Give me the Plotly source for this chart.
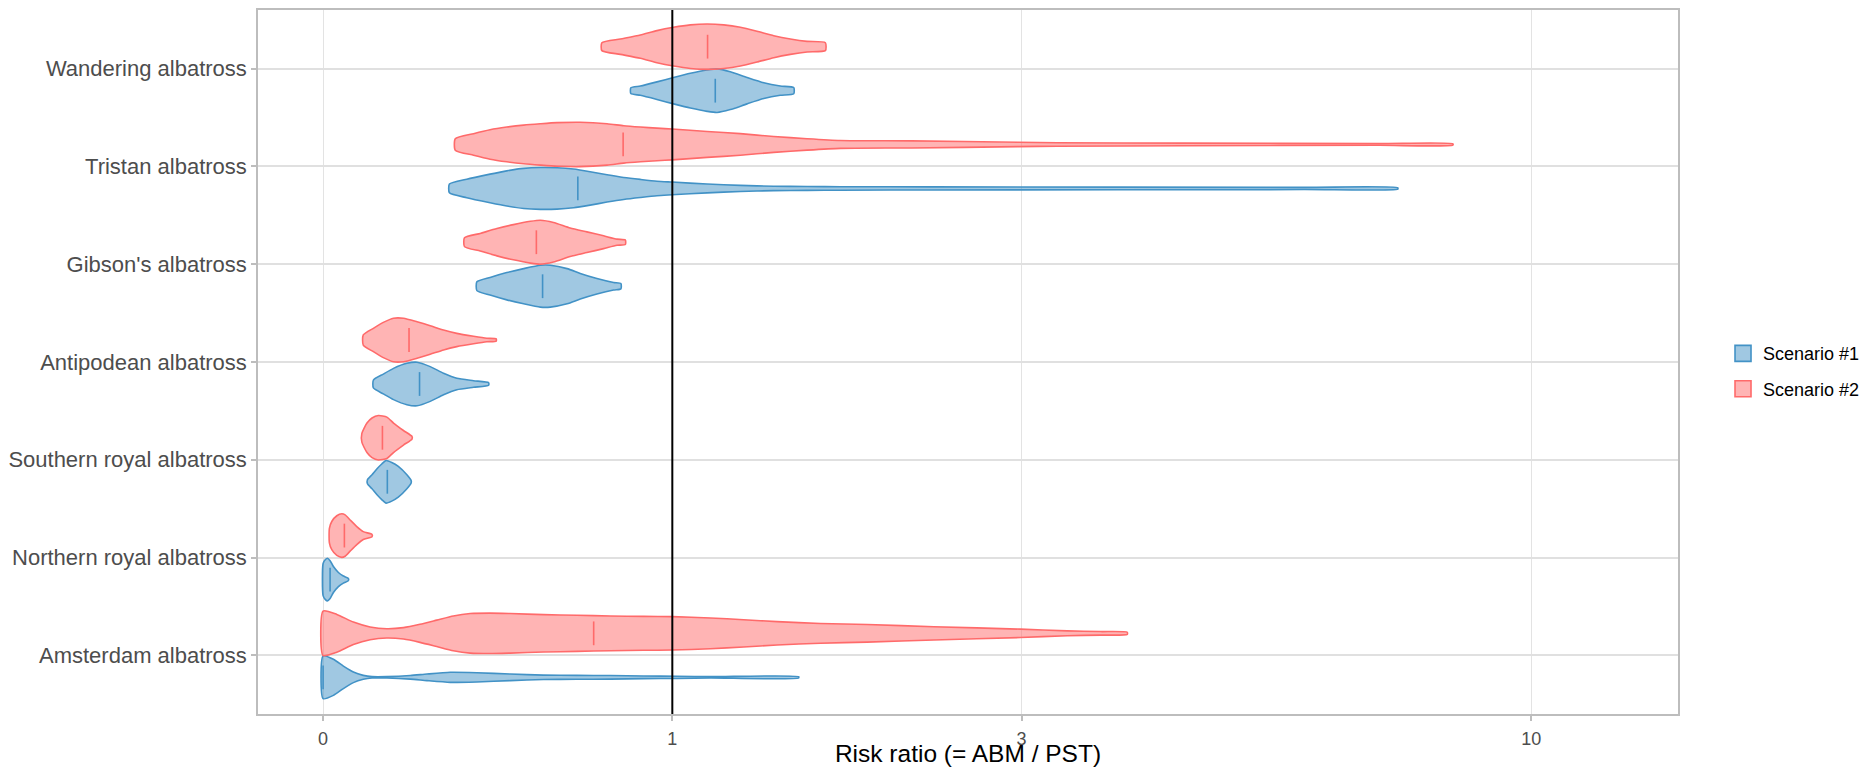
import numpy as np
import plotly.graph_objects as go

# ---------------- data ----------------
species = ["Amsterdam albatross", "Northern royal albatross", "Southern royal albatross",
           "Antipodean albatross", "Gibson's albatross", "Tristan albatross",
           "Wandering albatross"]
scenarios = ["Scenario #1", "Scenario #2"]
x_tick_values = [0, 1, 3, 10]
reference_ratio = 1

# Scenario #1 violin profiles (risk ratio grid, relative density)
amsterdam_s1_ratio = [0, 0.0207, 0.0411, 0.062, 0.083, 0.102, 0.135, 0.189, 0.229, 0.287,
                      0.357, 0.45, 0.549, 0.655, 0.768, 0.889, 1.019, 1.157, 1.57]
amsterdam_s1_density = [0.97, 0.82, 0.51, 0.24, 0.09, 0.03, 0.03, 0.08, 0.15, 0.23,
                        0.21, 0.15, 0.10, 0.09, 0.08, 0.06, 0.05, 0.03, 0.03]
northern_s1_ratio = [0, 0.0046, 0.0086, 0.014, 0.0207, 0.0309, 0.0411, 0.0515]
northern_s1_density = [0.73, 0.91, 0.97, 0.86, 0.59, 0.32, 0.16, 0.05]
southern_s1_ratio = [0.092, 0.102, 0.113, 0.124, 0.133, 0.146, 0.161, 0.181, 0.191]
southern_s1_density = [0.09, 0.32, 0.59, 0.82, 0.97, 0.88, 0.70, 0.32, 0.06]
antipodean_s1_ratio = [0.105, 0.127, 0.15, 0.181, 0.205, 0.237, 0.27, 0.304, 0.348, 0.389]
antipodean_s1_density = [0.18, 0.45, 0.71, 0.94, 0.99, 0.79, 0.49, 0.26, 0.15, 0.06]
gibson_s1_ratio = [0.357, 0.393, 0.44, 0.489, 0.539, 0.57, 0.623, 0.666, 0.722, 0.78, 0.806]
gibson_s1_density = [0.20, 0.40, 0.62, 0.80, 0.95, 0.95, 0.80, 0.58, 0.35, 0.17, 0.12]
tristan_s1_ratio = [0.285, 0.33, 0.393, 0.44, 0.489, 0.539, 0.591, 0.644, 0.699, 0.757, 0.816,
                    0.877, 0.94, 0.999, 1.143, 1.289, 1.446, 1.613, 1.792, 2.345, 6.004, 7.441]
tristan_s1_density = [0.20, 0.42, 0.65, 0.80, 0.91, 0.95, 0.94, 0.88, 0.76, 0.62, 0.50,
                      0.41, 0.33, 0.29, 0.20, 0.14, 0.10, 0.09, 0.08, 0.07, 0.05, 0.03]
wandering_s1_ratio = [0.842, 0.877, 0.94, 1.005, 1.073, 1.143, 1.186, 1.244, 1.32, 1.398,
                      1.478, 1.545]
wandering_s1_density = [0.13, 0.21, 0.40, 0.60, 0.79, 0.94, 0.99, 0.86, 0.60, 0.36, 0.21, 0.14]

# Scenario #2 violin profiles
amsterdam_s2_ratio = [0, 0.0276, 0.062, 0.0978, 0.135, 0.173, 0.212, 0.253, 0.295, 0.339,
                      0.393, 0.45, 0.549, 0.655, 0.768, 0.889, 0.999, 1.157, 1.304, 1.462,
                      1.683, 1.944, 2.361, 2.992, 3.38, 3.679, 3.934]
amsterdam_s2_density = [1.01, 0.86, 0.51, 0.29, 0.21, 0.26, 0.41, 0.60, 0.79, 0.90,
                        0.92, 0.90, 0.85, 0.82, 0.79, 0.77, 0.76, 0.70, 0.62, 0.53,
                        0.45, 0.40, 0.30, 0.19, 0.11, 0.08, 0.05]
northern_s2_ratio = [0.0126, 0.0174, 0.0276, 0.0378, 0.0447, 0.0551, 0.0692, 0.083, 0.102]
northern_s2_density = [0.33, 0.64, 0.90, 0.99, 0.94, 0.71, 0.41, 0.18, 0.05]
southern_s2_ratio = [0.08, 0.091, 0.102, 0.116, 0.135, 0.15, 0.173, 0.193]
southern_s2_density = [0.20, 0.67, 0.90, 1.01, 0.94, 0.67, 0.33, 0.06]
antipodean_s2_ratio = [0.083, 0.105, 0.127, 0.15, 0.173, 0.205, 0.237, 0.27, 0.304, 0.348,
                       0.384, 0.41]
antipodean_s2_density = [0.23, 0.53, 0.80, 0.99, 0.99, 0.83, 0.65, 0.45, 0.30, 0.17, 0.08, 0.05]
gibson_s2_ratio = [0.324, 0.366, 0.412, 0.459, 0.509, 0.539, 0.58, 0.633, 0.688, 0.745,
                   0.792, 0.822]
gibson_s2_density = [0.20, 0.40, 0.62, 0.80, 0.95, 1.0, 0.90, 0.65, 0.47, 0.29, 0.14, 0.10]
tristan_s2_ratio = [0.3, 0.348, 0.393, 0.44, 0.489, 0.539, 0.591, 0.666, 0.757, 0.816, 0.877,
                    0.94, 0.999, 1.143, 1.289, 1.446, 1.613, 1.792, 2.215, 2.976, 3.296,
                    4.529, 7.128, 8.414]
tristan_s2_density = [0.26, 0.49, 0.67, 0.79, 0.88, 0.94, 0.99, 1.01, 0.94, 0.85, 0.79,
                      0.74, 0.70, 0.59, 0.49, 0.36, 0.26, 0.18, 0.16, 0.10, 0.08, 0.06,
                      0.04, 0.03]
wandering_s2_ratio = [0.739, 0.804, 0.877, 0.94, 1.005, 1.073, 1.143, 1.215, 1.289, 1.366,
                      1.446, 1.528, 1.613, 1.71]
wandering_s2_density = [0.18, 0.35, 0.53, 0.73, 0.88, 0.99, 1.03, 0.99, 0.88, 0.70, 0.50,
                        0.35, 0.24, 0.18]

# medians (same species order)
median_s1 = [0.0, 0.014, 0.136, 0.211, 0.546, 0.658, 1.178]
median_s2 = [0.711, 0.0432, 0.125, 0.186, 0.527, 0.814, 1.145]

profiles_s1 = [(amsterdam_s1_ratio, amsterdam_s1_density), (northern_s1_ratio, northern_s1_density),
               (southern_s1_ratio, southern_s1_density), (antipodean_s1_ratio, antipodean_s1_density),
               (gibson_s1_ratio, gibson_s1_density), (tristan_s1_ratio, tristan_s1_density),
               (wandering_s1_ratio, wandering_s1_density)]
profiles_s2 = [(amsterdam_s2_ratio, amsterdam_s2_density), (northern_s2_ratio, northern_s2_density),
               (southern_s2_ratio, southern_s2_density), (antipodean_s2_ratio, antipodean_s2_density),
               (gibson_s2_ratio, gibson_s2_density), (tristan_s2_ratio, tristan_s2_density),
               (wandering_s2_ratio, wandering_s2_density)]

# ---------------- styling ----------------
DODGE = 0.225
HALF = 0.225
FONT = "Liberation Sans, Arial, sans-serif"
line_colors = ["#4292C6", "#FF6A6A"]
fill_colors = ["rgba(66,146,198,0.5)", "rgba(255,106,106,0.5)"]
offsets = [-DODGE, DODGE]


def tf(v):
    return np.log10(1.0 + np.asarray(v, dtype=float))


fig = go.Figure()

for k, profiles in enumerate([profiles_s1, profiles_s2]):
    xs, ys = [], []
    for i, (ratio, dens) in enumerate(profiles):
        c = (i + 1) + offsets[k]
        t = tf(ratio)
        d = np.asarray(dens) * HALF
        xs += list(t) + list(t[::-1]) + [t[0], None]
        ys += list(c + d) + list((c - d)[::-1]) + [c + d[0], None]
    fig.add_trace(go.Scatter(
        x=xs, y=ys, mode="lines", fill="toself", fillcolor=fill_colors[k],
        line=dict(color=line_colors[k], width=1.6, shape="spline", smoothing=0.6),
        name=scenarios[k], legendgroup=scenarios[k], showlegend=False, hoverinfo="skip"))

for k, med in enumerate([median_s1, median_s2]):
    fig.add_trace(go.Scatter(
        x=tf(med), y=[(i + 1) + offsets[k] for i in range(len(species))],
        mode="markers", showlegend=False, legendgroup=scenarios[k],
        marker=dict(symbol="line-ns", size=17, color=line_colors[k],
                    line=dict(color=line_colors[k], width=1.6)),
        hoverinfo="skip"))

# legend keys (boxes in the scenario colours)
for k in range(2):
    fig.add_trace(go.Scatter(
        x=[None], y=[None], mode="markers", name=scenarios[k], legendgroup=scenarios[k],
        marker=dict(symbol="square", size=16, color=fill_colors[k],
                    line=dict(color=line_colors[k], width=1.6)),
        hoverinfo="skip"))

ref_t = float(tf(reference_ratio))
fig.add_shape(type="line", x0=ref_t, x1=ref_t, y0=0, y1=1, xref="x", yref="paper",
              line=dict(color="black", width=2))

# page body has an 8px margin: size the figure to fit the 1873x775 window exactly
fig.update_layout(
    width=1857, height=759,
    margin=dict(l=250, r=187, t=2, b=53, autoexpand=False),
    paper_bgcolor="white", plot_bgcolor="white",
    font=dict(family=FONT),
    showlegend=True,
    legend=dict(x=1.0317, y=0.487, xanchor="left", yanchor="middle",
                font=dict(size=18, color="black", family=FONT),
                tracegroupgap=9, bgcolor="rgba(0,0,0,0)"),
    xaxis=dict(range=[-0.0561, 1.1679], tickvals=list(tf(x_tick_values)),
               ticktext=[str(v) for v in x_tick_values], automargin=True,
               tickfont=dict(size=18, color="#4D4D4D", family=FONT),
               ticklabelstandoff=3,
               showgrid=True, gridcolor="#E3E3E3", gridwidth=1, zeroline=False,
               showline=True, mirror=True, linecolor="#BDBDBD", linewidth=1.5,
               ticks="outside", ticklen=5, tickcolor="#BDBDBD", tickwidth=1.5,
               title=dict(text="Risk ratio (= ABM / PST)",
                          font=dict(size=24.5, color="black", family=FONT), standoff=7)),
    yaxis=dict(range=[0.4, 7.6], tickvals=list(range(1, len(species) + 1)), ticktext=species,
               automargin=False,
               tickfont=dict(size=22, color="#4D4D4D", family=FONT),
               showgrid=True, gridcolor="#E0E0E0", gridwidth=1.5, zeroline=False,
               showline=True, mirror=True, linecolor="#BDBDBD", linewidth=1.5,
               ticks="outside", ticklen=5, tickcolor="#BDBDBD", tickwidth=1.5),
)

fig.write_html("out.html")
